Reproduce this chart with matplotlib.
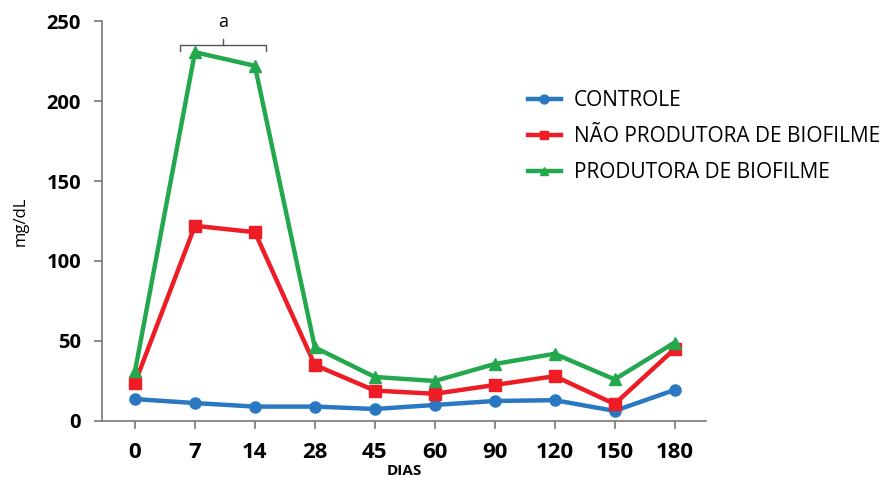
import matplotlib.pyplot as plt

#
# data
#
dias = ['0', '7', '14', '28', '45', '60', '90', '120', '150', '180']
controle = [13.7, 11.2, 9.0, 9.0, 7.5, 10.0, 12.5, 13.0, 6.3, 19.4]
nao_produtora = [23.7, 122, 118, 35, 19, 17, 22.5, 28, 10.6, 45]
produtora = [31, 230.5, 222, 46, 27.5, 25, 35.6, 42, 26, 49]

plt.rcParams['font.family'] = ['Open Sans', 'DejaVu Sans']

fig = plt.figure(figsize=(8.9, 4.82), dpi=100)
ax = fig.add_axes([0.1146, 0.1266, 0.6784, 0.8298])

x = list(range(len(dias)))
ax.plot(x, controle, color='#2a78c2', lw=3.2, marker='o', ms=8, label='CONTROLE')
ax.plot(x, nao_produtora, color='#ee1c25', lw=3.2, marker='s', ms=8, label='NÃO PRODUTORA DE BIOFILME')
ax.plot(x, produtora, color='#23a84e', lw=3.2, marker='^', ms=8, label='PRODUTORA DE BIOFILME')

ax.set_xlim(-0.55, 9.52)
ax.set_ylim(0, 250)
ax.set_yticks([0, 50, 100, 150, 200, 250])
ax.set_xticks(x)
ax.set_xticklabels(dias)

for s in ['top', 'right']:
    ax.spines[s].set_visible(False)
for s in ['left', 'bottom']:
    ax.spines[s].set_color('#777777')
    ax.spines[s].set_linewidth(1.2)

ax.tick_params(axis='both', colors='#777777', width=1.2, length=6, labelcolor='black')
ax.tick_params(axis='x', labelsize=16, pad=9)
ax.tick_params(axis='y', labelsize=14.5, pad=9)
for lbl in ax.get_xticklabels() + ax.get_yticklabels():
    lbl.set_fontweight('bold')

ax.set_xlabel('DIAS', fontsize=11, fontweight='bold', labelpad=1)
ax.set_ylabel('mg/dL', fontsize=12, labelpad=13)

# bracket over days 7-14
bx0, bx1, by = 0.75, 2.18, 235
ax.plot([bx0, bx0, bx1, bx1], [231, by, by, 231], color='#555555', lw=1, clip_on=False)
ax.plot([(bx0 + bx1) / 2] * 2, [by, 239], color='#555555', lw=1, clip_on=False)
ax.text((bx0 + bx1) / 2, 244, 'a', ha='center', va='bottom', fontsize=13, clip_on=False)

ax.legend(loc='upper left', bbox_to_anchor=(0.572, 0.852), bbox_transform=fig.transFigure,
          frameon=False, fontsize=15, handlelength=1.6, handletextpad=0.6,
          labelspacing=0.72, markerscale=0.8)

plt.savefig('out.png', dpi=100)
plt.close()
